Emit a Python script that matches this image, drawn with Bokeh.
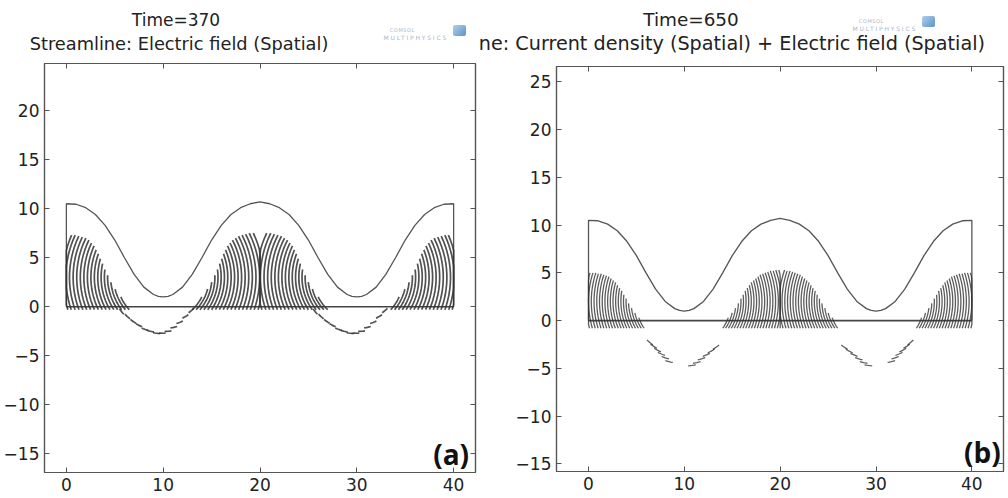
import math
from bokeh.plotting import figure
from bokeh.layouts import row, column
from bokeh.models import FixedTicker, LinearAxis, Range1d, Div
from bokeh.core.properties import value
from bokeh.embed import file_html
from bokeh.resources import INLINE

# ---- data -------------------------------------------------------------
X_TICKS = [0, 10, 20, 30, 40]
Y_TICKS_A = [-15, -10, -5, 0, 5, 10, 15, 20]
Y_TICKS_B = [-15, -10, -5, 0, 5, 10, 15, 20, 25]

TITLE_A = ["Time=370", "Streamline: Electric field (Spatial)"]
TITLE_B = ["Time=650", "Streamline: Current density (Spatial) + Electric field (Spatial)"]

# upper boundary of the cell (same geometry at both times)
OUTLINE_X = [0, 0, 1, 2, 3, 4, 5, 6, 7, 8, 9, 9.5, 10, 10.5, 11, 12, 13, 14, 15, 16, 17, 18, 19, 20,
             21, 22, 23, 24, 25, 26, 27, 28, 29, 29.5, 30, 30.5, 31, 32, 33, 34, 35, 36, 37, 38, 39, 40, 40]
OUTLINE_Y = [0, 10.5, 10.45, 10.1, 9.4, 8.3, 6.8, 5.0, 3.3, 2.0, 1.25, 1.06, 1.0, 1.06, 1.25, 2.0, 3.3, 5.0, 6.8,
             8.3, 9.4, 10.1, 10.5, 10.7, 10.5, 10.1, 9.4, 8.3, 6.8, 5.0, 3.3, 2.0, 1.25, 1.06, 1.0, 1.06, 1.25,
             2.0, 3.3, 5.0, 6.8, 8.3, 9.4, 10.1, 10.45, 10.5, 0]
BASE_X = [0, 40]
BASE_Y = [0, 0]
VALLEYS = [10, 30]
HALF_CELL = 10

# Time=370: streamlines rising from the electrode (foot x, top y)
A_FOOT = [0.15, 0.5, 0.9, 1.3, 1.7, 2.1, 2.5, 2.9, 3.3, 3.7, 4.1, 4.5, 4.9, 5.3, 5.7, 6.1, 6.5,
          13.0, 13.4, 13.8, 14.2, 14.6, 15.0, 15.4, 15.8, 16.2, 16.6, 17.0, 17.4, 17.8, 18.2, 18.6, 19.0,
          19.4, 19.8, 20.2, 20.6, 21.0, 21.4, 21.8, 22.2, 22.6, 23.0, 23.4, 23.8, 24.2, 24.6, 25.0, 25.4,
          25.8, 26.2, 26.6, 27.0,
          33.5, 33.9, 34.3, 34.7, 35.1, 35.5, 35.9, 36.3, 36.7, 37.1, 37.5, 37.9, 38.3, 38.7, 39.1, 39.5, 39.85]
A_TOP = [7.3, 7.3, 7.2, 7.1, 7.0, 6.8, 6.5, 6.2, 5.8, 5.4, 4.9, 4.4, 3.8, 3.2, 2.5, 1.8, 1.0,
         1.0, 1.8, 2.5, 3.2, 3.8, 4.4, 4.9, 5.4, 5.8, 6.2, 6.5, 6.8, 7.0, 7.2, 7.3, 7.4,
         7.5, 7.5, 7.5, 7.5, 7.4, 7.3, 7.2, 7.0, 6.8, 6.5, 6.2, 5.8, 5.4, 4.9, 4.4, 3.8,
         3.2, 2.5, 1.8, 1.0,
         1.0, 1.8, 2.5, 3.2, 3.8, 4.4, 4.9, 5.4, 5.8, 6.2, 6.5, 6.8, 7.0, 7.1, 7.2, 7.3, 7.3]
A_FOOT_Y = -0.3
A_CENTRE_Y = 3.0
# short streamline pieces under the valleys (centre x, centre y)
A_DASH_X = [5.7, 6.3, 6.9, 7.5, 8.1, 8.7, 9.3, 9.9, 10.5, 11.1, 11.7, 12.3, 12.9,
            25.7, 26.3, 26.9, 27.5, 28.1, 28.7, 29.3, 29.9, 30.5, 31.1, 31.7, 32.3, 32.9]
A_DASH_Y = [-0.5, -1.0, -1.5, -1.9, -2.3, -2.5, -2.7, -2.7, -2.5, -2.1, -1.6, -1.0, -0.4,
            -0.5, -1.0, -1.5, -1.9, -2.3, -2.5, -2.7, -2.7, -2.5, -2.1, -1.6, -1.0, -0.4]

# Time=650
B_FOOT = [0.1, 0.4, 0.7, 1.0, 1.3, 1.6, 1.9, 2.2, 2.5, 2.8, 3.1, 3.4, 3.7, 4.0, 4.3, 4.6, 4.9, 5.2, 5.5, 5.8,
          14.0, 14.3, 14.6, 14.9, 15.2, 15.5, 15.8, 16.1, 16.4, 16.7, 17.0, 17.3, 17.6, 17.9, 18.2, 18.5, 18.8,
          19.1, 19.4, 19.7, 20.0, 20.3, 20.6, 20.9, 21.2, 21.5, 21.8, 22.1, 22.4, 22.7, 23.0, 23.3, 23.6,
          23.9, 24.2, 24.5, 24.8, 25.1, 25.4, 25.7, 26.0,
          34.2, 34.5, 34.8, 35.1, 35.4, 35.7, 36.0, 36.3, 36.6, 36.9, 37.2, 37.5, 37.8, 38.1, 38.4, 38.7,
          39.0, 39.3, 39.6, 39.9]
B_TOP = [5.0, 5.0, 5.0, 4.9, 4.9, 4.8, 4.7, 4.6, 4.4, 4.2, 4.0, 3.7, 3.4, 3.1, 2.7, 2.3, 1.8, 1.3, 0.8, 0.3,
         0.3, 0.8, 1.3, 1.8, 2.3, 2.7, 3.1, 3.4, 3.7, 4.0, 4.2, 4.4, 4.6, 4.8, 4.9, 5.0, 5.1, 5.2, 5.2, 5.3,
         5.3, 5.3, 5.2, 5.2, 5.1, 5.0, 4.9, 4.8, 4.6, 4.4, 4.2, 4.0, 3.7, 3.4, 3.1, 2.7, 2.3, 1.8, 1.3, 0.8, 0.3,
         0.3, 0.8, 1.3, 1.8, 2.3, 2.7, 3.1, 3.4, 3.7, 4.0, 4.2, 4.4, 4.6, 4.7, 4.8, 4.9, 4.9, 5.0, 5.0, 5.0]
B_FOOT_Y = -0.8
B_CENTRE_Y = 2.0
B_DASH_X = [6.4, 6.8, 7.2, 7.6, 8.0, 8.4, 10.8, 11.3, 11.8, 12.3, 12.8, 13.3,
            26.7, 27.2, 27.7, 28.2, 28.7, 29.2, 31.6, 32.0, 32.4, 32.8, 33.2, 33.6]
B_DASH_Y = [-2.3, -2.7, -3.1, -3.5, -3.9, -4.3, -4.7, -4.4, -4.0, -3.6, -3.2, -2.8,
            -2.8, -3.2, -3.6, -4.0, -4.4, -4.7, -4.3, -3.9, -3.5, -3.1, -2.7, -2.3]

FONT = "DejaVu Sans"
INK = "#222222"
FRAME = "#555555"
STROKE = "#333333"
LOGO = "#aab6c8"


def nearest_valley(x):
    return min(VALLEYS, key=lambda v: abs(v - x))


def arc(cx, cy, r, a0, a1, n=14):
    # points along a circle, kept inside the half cell that belongs to this valley
    lo, hi = max(0.0, cx - HALF_CELL), min(40.0, cx + HALF_CELL)
    pts_x, pts_y = [], []
    for i in range(n + 1):
        a = a0 + (a1 - a0) * i / n
        pts_x.append(min(hi, max(lo, cx + r * math.cos(a))))
        pts_y.append(cy + r * math.sin(a))
    return pts_x, pts_y


def angle(dx, dy, left):
    a = math.atan2(dy, dx)
    if left and a < 0:
        a += 2 * math.pi
    return a


def streamline_paths(feet, tops, foot_y, centre_y):
    # each streamline follows a circle around the nearest valley tip
    xs, ys = [], []
    for xf, yt in zip(feet, tops):
        cx = nearest_valley(xf)
        left = xf < cx
        r = math.hypot(xf - cx, foot_y - centre_y)
        dy = max(-r, min(r, yt - centre_y))
        xt = cx + (-1 if left else 1) * math.sqrt(r * r - dy * dy)
        a0 = angle(xf - cx, foot_y - centre_y, left)
        a1 = angle(xt - cx, yt - centre_y, left)
        px, py = arc(cx, centre_y, r, a0, a1)
        xs.append(px)
        ys.append(py)
    return xs, ys


def dash_paths(px, py, centre_y, length):
    xs, ys = [], []
    for x, y in zip(px, py):
        cx = nearest_valley(x)
        r = math.hypot(x - cx, y - centre_y)
        a = math.atan2(y - centre_y, x - cx)
        da = 0.5 * length / r
        qx, qy = arc(cx, centre_y, r, a - da, a + da, n=4)
        xs.append(qx)
        ys.append(qy)
    return xs, ys


def span(text, x, y, size, anchor="center", color=INK, extra=""):
    if anchor == "center":
        pos = f"left:{x}px;transform:translate(-50%,-50%);"
    else:  # right edge given as distance from the right side
        pos = f"right:{x}px;transform:translateY(-50%);"
    return (f'<span style="position:absolute;top:{y}px;{pos}font-size:{size}px;line-height:1;'
            f'white-space:nowrap;color:{color};{extra}">{text}</span>')


def logo(right, top):
    # small COMSOL mark: two lines of lettering and a blue cube
    return (span("COMSOL", right + 51, top + 5, 5, anchor="right", color=LOGO,
                 extra="letter-spacing:0.6px;")
            + span("MULTIPHYSICS", right + 18, top + 13, 6, anchor="right", color=LOGO,
                   extra="letter-spacing:1.8px;")
            + f'<div style="position:absolute;right:{right}px;top:{top}px;width:13px;height:11px;'
              'border-radius:2px;background:linear-gradient(135deg,#a8cbe9,#4a86c0);opacity:0.9"></div>')


def header(width, height, body):
    html = (f'<div style="position:relative;width:{width}px;height:{height}px;overflow:hidden;'
            f'font-family:\'{FONT}\';background:white;">{body}</div>')
    return Div(text=html, width=width, height=height, margin=(0, 0, 0, 0))


def panel(width, height, x_rng, y_rng, y_ticks, borders):
    left, right, top, bottom = borders
    p = figure(width=width, height=height, x_range=Range1d(*x_rng), y_range=Range1d(*y_rng),
               output_backend="svg", toolbar_location=None, x_axis_location=None,
               y_axis_location=None, min_border_left=left, min_border_right=right,
               min_border_top=top, min_border_bottom=bottom)
    p.grid.visible = False
    p.outline_line_color = FRAME
    p.outline_line_width = 1.2
    for loc, ticks, labelled in (("below", X_TICKS, True), ("above", X_TICKS, False),
                                 ("left", y_ticks, True), ("right", y_ticks, False)):
        ax = LinearAxis(ticker=FixedTicker(ticks=ticks))
        ax.axis_line_color = FRAME
        ax.axis_line_width = 1.2
        ax.major_tick_line_color = FRAME
        ax.major_tick_in = 5
        ax.major_tick_out = 0
        ax.minor_tick_line_color = None
        ax.major_label_text_font = FONT
        ax.major_label_text_color = INK
        ax.major_label_text_font_size = "17px"
        ax.major_label_standoff = 5
        if not labelled:
            ax.major_label_text_color = None
            ax.major_label_text_font_size = "1px"
            ax.major_label_standoff = 0
        p.add_layout(ax, loc)
    p.line(OUTLINE_X, OUTLINE_Y, line_color="#555555", line_width=1.3)
    p.line(BASE_X, BASE_Y, line_color="#444444", line_width=1.6)
    return p


def tag(p, x, y, t):
    p.text(x=[x], y=[y], text=[t], text_font=value("Open Sans"), text_font_size="28px",
           text_font_style="bold", text_color="#111111", text_align="right", text_baseline="middle")


# ---- (a) Time=370 ------------------------------------------------------
HEAD_A = 57
ha = header(480, HEAD_A,
            span(TITLE_A[0], 176, 20, 17) + span(TITLE_A[1], 179, 44, 17.8) + logo(14, 25))

pa = panel(480, 498 - HEAD_A, (-2.26, 42.26), (-16.9, 24.8), Y_TICKS_A, (42, 5, 6, 26))
xs, ys = streamline_paths(A_FOOT, A_TOP, A_FOOT_Y, A_CENTRE_Y)
pa.multi_line(xs, ys, line_color=STROKE, line_width=1.7, line_alpha=0.85)
xs, ys = dash_paths(A_DASH_X, A_DASH_Y, A_CENTRE_Y, 0.7)
pa.multi_line(xs, ys, line_color=STROKE, line_width=1.7, line_alpha=0.85)
tag(pa, 41.6, -15.0, "(a)")

# ---- (b) Time=650 ------------------------------------------------------
HEAD_B = 58
hb = header(528, HEAD_B,
            logo(73, 16) + span(TITLE_B[0], 211, 20, 18.4) + span(TITLE_B[1], 23, 44, 19.2, anchor="right"))

pb = panel(528, 498 - HEAD_B, (-3.34, 43.3), (-15.8, 26.6), Y_TICKS_B, (76, 5, 8, 27))
xs, ys = streamline_paths(B_FOOT, B_TOP, B_FOOT_Y, B_CENTRE_Y)
pb.multi_line(xs, ys, line_color=STROKE, line_width=1.3, line_alpha=0.8)
xs, ys = dash_paths(B_DASH_X, B_DASH_Y, B_CENTRE_Y, 0.8)
pb.multi_line(xs, ys, line_color=STROKE, line_width=1.3, line_alpha=0.8)
tag(pb, 43.0, -13.8, "(b)")

layout = row(column(ha, pa), column(hb, pb))
open("out.html", "w").write(file_html(layout, INLINE))
